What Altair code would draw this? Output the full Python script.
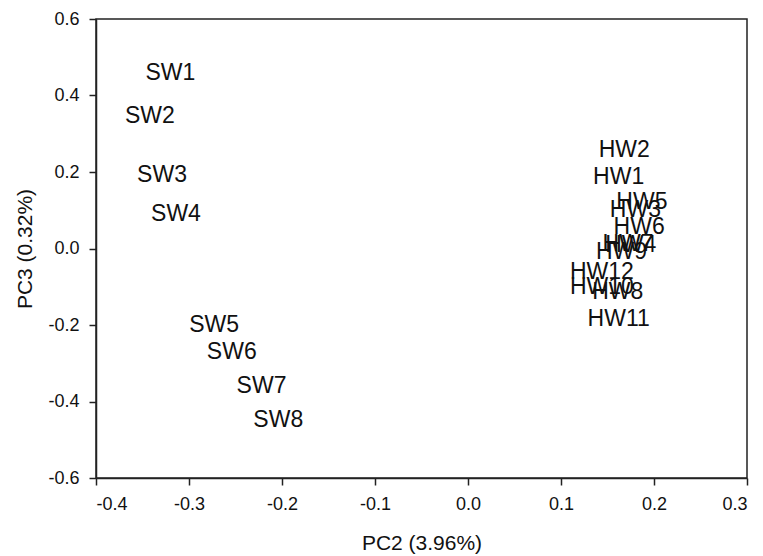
import altair as alt
import pandas as pd

# Sample labels and their scores on PC2 / PC3
samples = ["SW1", "SW2", "SW3", "SW4", "SW5", "SW6", "SW7", "SW8",
           "HW2", "HW1", "HW5", "HW3", "HW6", "HW7", "HW4", "HW9",
           "HW12", "HW10", "HW8", "HW11"]
pc2 = [-0.320, -0.342, -0.329, -0.314, -0.273, -0.254, -0.222, -0.204,
       0.168, 0.162, 0.187, 0.180, 0.184, 0.172, 0.175, 0.165,
       0.144, 0.144, 0.161, 0.162]
pc3 = [0.459, 0.346, 0.192, 0.090, -0.200, -0.271, -0.359, -0.448,
       0.258, 0.187, 0.122, 0.101, 0.056, 0.012, 0.009, -0.009,
       -0.061, -0.101, -0.114, -0.184]

x_ticks = [-0.4, -0.3, -0.2, -0.1, 0.0, 0.1, 0.2, 0.3]
y_ticks = [-0.6, -0.4, -0.2, 0.0, 0.2, 0.4, 0.6]

df = pd.DataFrame({"sample": samples, "pc2": pc2, "pc3": pc3})

ink = "#222222"

label_expr = "replace(format(datum.value, '.1f'), '\u2212', '-')"

chart = alt.Chart(df).mark_text(
    font="Liberation Sans", fontSize=23, color="#111111",
    align="center", baseline="middle"
).encode(
    x=alt.X("pc2:Q",
            scale=alt.Scale(domain=[-0.4, 0.3], nice=False, zero=False),
            axis=alt.Axis(title="PC2 (3.96%)", values=x_ticks,
                          labelExpr=label_expr, grid=False,
                          tickSize=7, labelPadding=10,
                          titlePadding=19)),
    y=alt.Y("pc3:Q",
            scale=alt.Scale(domain=[-0.6, 0.6], nice=False, zero=False),
            axis=alt.Axis(title="PC3 (0.32%)", values=y_ticks,
                          labelExpr=label_expr, grid=False,
                          tickSize=7, labelPadding=10,
                          titlePadding=12)),
    text="sample:N",
).properties(
    width=651, height=459,
    autosize=alt.AutoSizeParams(type="none"),
    padding={"left": 96, "top": 19, "right": 16, "bottom": 78},
    background="white",
).configure_view(
    stroke=ink, strokeWidth=1.5
).configure_axis(
    domainColor=ink, domainWidth=1.5, tickColor=ink, tickWidth=1.5,
    labelFont="Liberation Sans", labelFontSize=18, labelColor="#111111",
    titleFont="Liberation Sans", titleFontSize=21, titleColor="#111111",
    titleFontWeight="normal",
)

chart.save("out.html", embed_options={"renderer": "svg", "actions": False})
